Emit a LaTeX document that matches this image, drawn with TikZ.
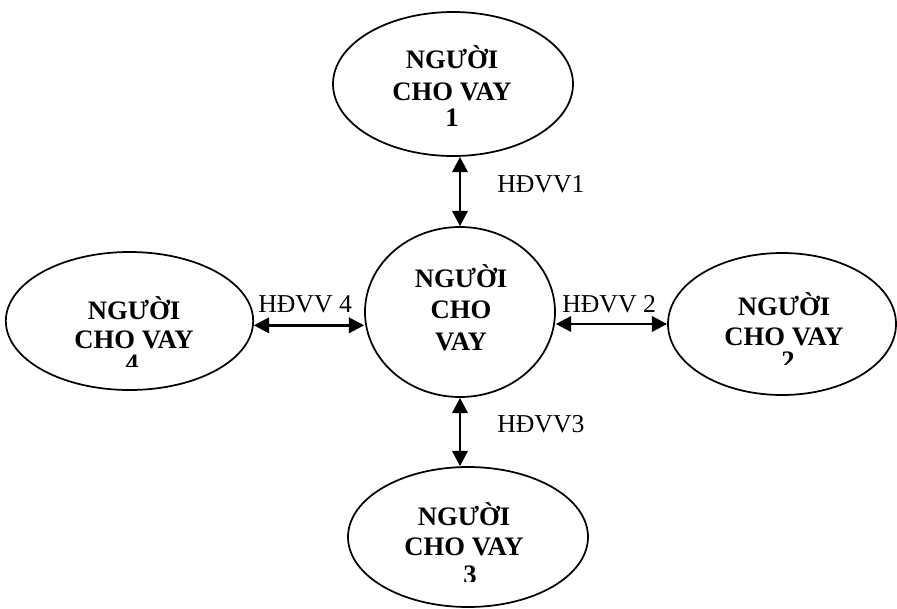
\documentclass[tikz,border=0pt]{standalone}
\usepackage{fontspec}
\setmainfont{Liberation Serif}
\usetikzlibrary{arrows.meta,shapes.geometric}
\begin{document}
\begin{tikzpicture}[x=0.75pt,y=-0.75pt,
  party/.style={draw, line width=1.3pt, ellipse, inner sep=0pt},
  who/.style={font=\fontsize{20}{23}\selectfont\bfseries, inner sep=0pt, anchor=base},
  deal/.style={font=\fontsize{19.3}{23}\selectfont, inner sep=0pt, anchor=base west},
  link/.style={line width=2.2pt,
    {Triangle[length=11.5pt,width=11.5pt]}-{Triangle[length=11.5pt,width=11.5pt]}}]
\useasboundingbox (0,0) rectangle (897,608);

% the five parties
\node[party, minimum width=180pt, minimum height=108pt] (L1) at (453,84) {};
\node[party, minimum width=142.5pt, minimum height=127.5pt] (C) at (460,312) {};
\node[party, minimum width=185.5pt, minimum height=103.5pt] (L4) at (129.5,321) {};
\node[party, minimum width=171pt, minimum height=106.5pt] (L2) at (782,324) {};
\node[party, minimum width=180pt, minimum height=105pt] (L3) at (468,537) {};

% centre
\node[who] (Ca) at (461,287) {NGƯỜI};
\node[who] (Cb) at (461,318) {CHO};
\node[who] (Cc) at (461,350) {VAY};

% lender 1
\node[who] (L1a) at (452,68) {NGƯỜI};
\node[who] (L1b) at (452,100) {CHO VAY};
\begin{scope}
  \clip (300,102) rectangle (600,125);
  \node[who] (L1c) at (452,126) {1};
\end{scope}

% lender 4
\node[who] (L4a) at (134,319) {NGƯỜI};
\node[who] (L4b) at (134,348) {CHO VAY};
\begin{scope}
  \clip (0,350) rectangle (260,366);
  \node[who] (L4c) at (132,372) {4};
\end{scope}

% lender 2
\node[who] (L2a) at (784,315) {NGƯỜI};
\node[who] (L2b) at (784,345) {CHO VAY};
\begin{scope}
  \clip (660,347) rectangle (897,364);
  \node[who] (L2c) at (788,369) {2};
\end{scope}

% lender 3
\node[who] (L3a) at (464,525) {NGƯỜI};
\node[who] (L3b) at (464,555) {CHO VAY};
\begin{scope}
  \clip (340,557) rectangle (600,581);
  \node[who] (L3c) at (470,583) {3};
\end{scope}

% loan contracts
\draw[link] (C.north |- L1.south) -- (C.north);
\draw[link] (C.south) -- (C.south |- L3.north);
\draw[link] (L4.-2) -- (L4.-2 -| C.west);
\draw[link] (L2.west -| C.east) -- (L2.west);

\node[deal] (h1) at (497,192) {HĐVV1};
\node[deal] (h4) at (258,312) {HĐVV 4};
\node[deal] (h2) at (562,312) {HĐVV 2};
\node[deal] (h3) at (497,432) {HĐVV3};
\end{tikzpicture}
\end{document}
